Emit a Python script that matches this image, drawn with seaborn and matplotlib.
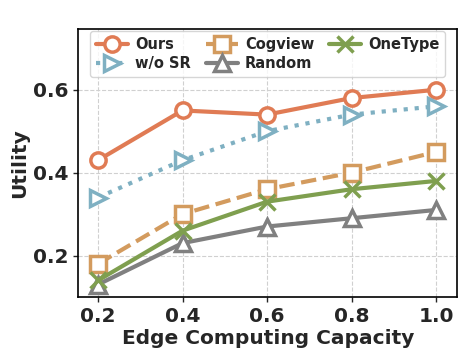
import matplotlib
matplotlib.use("Agg")
import matplotlib.pyplot as plt
import seaborn as sb
import pandas as pd

# capacités testées
capacity = [0.2, 0.4, 0.6, 0.8, 1.0]

ours = [0.43, 0.55, 0.54, 0.58, 0.60]
wo_sr = [0.34, 0.43, 0.50, 0.54, 0.56]
cogview = [0.18, 0.30, 0.36, 0.40, 0.45]
onetype = [0.14, 0.26, 0.33, 0.36, 0.38]
random_ = [0.13, 0.23, 0.27, 0.29, 0.31]

methods = ["Ours", "w/o SR", "Cogview", "OneType", "Random"]
values = [ours, wo_sr, cogview, onetype, random_]

styles = {
    "Ours": dict(color="#E07B54", marker="o", ls="-"),
    "w/o SR": dict(color="#7FB0C2", marker=">", ls=":"),
    "Cogview": dict(color="#D39B5E", marker="s", ls="--"),
    "OneType": dict(color="#7F9F4F", marker="x", ls="-"),
    "Random": dict(color="#808080", marker="^", ls="-"),
}

df = pd.DataFrame([(m, c, v) for m, vals in zip(methods, values)
                   for c, v in zip(capacity, vals)],
                  columns=["method", "capacity", "utility"])

sb.set_style("white")
plt.rcParams["font.family"] = ["DejaVu Sans"]
plt.rcParams["font.weight"] = "bold"

fig, ax = plt.subplots(figsize=(4.68, 3.6), dpi=100)

# ordre de la légende : ligne par ligne sur 3 colonnes
order = ["Ours", "w/o SR", "Cogview", "Random", "OneType"]
for m in order:
    st = styles[m]
    sub = df[df.method == m]
    sb.lineplot(data=sub, x="capacity", y="utility", ax=ax, label=m,
                color=st["color"], linestyle=st["ls"], linewidth=3,
                marker=st["marker"], markersize=11,
                markerfacecolor="white" if st["marker"] != "x" else st["color"],
                markeredgecolor=st["color"], markeredgewidth=2.5)

ax.set_xlim(0.153, 1.05)
ax.set_ylim(0.10, 0.747)
ax.set_xticks(capacity)
ax.set_yticks([0.2, 0.4, 0.6])
ax.grid(True, ls="--", color="#d0d0d0", lw=0.8)
for s in ax.spines.values():
    s.set_color("black")
    s.set_linewidth(1.2)
ax.tick_params(axis="both", labelsize=14.5, length=3.5, width=1, bottom=True, left=True)
for lab in ax.get_xticklabels() + ax.get_yticklabels():
    lab.set_fontweight("bold")
ax.set_xlabel("Edge Computing Capacity", fontsize=14.5, fontweight="bold", labelpad=2)
ax.set_ylabel("Utility", fontsize=14.5, fontweight="bold", labelpad=2.5)

ax.legend(ncol=3, loc="upper center", prop={"weight": "bold", "size": 10.5},
          handlelength=2.2, columnspacing=1.0, handletextpad=0.5,
          borderaxespad=0.15, labelspacing=0.3)

fig.subplots_adjust(left=0.167, right=0.977, top=0.92, bottom=0.175)
fig.savefig("out.png", dpi=100)
